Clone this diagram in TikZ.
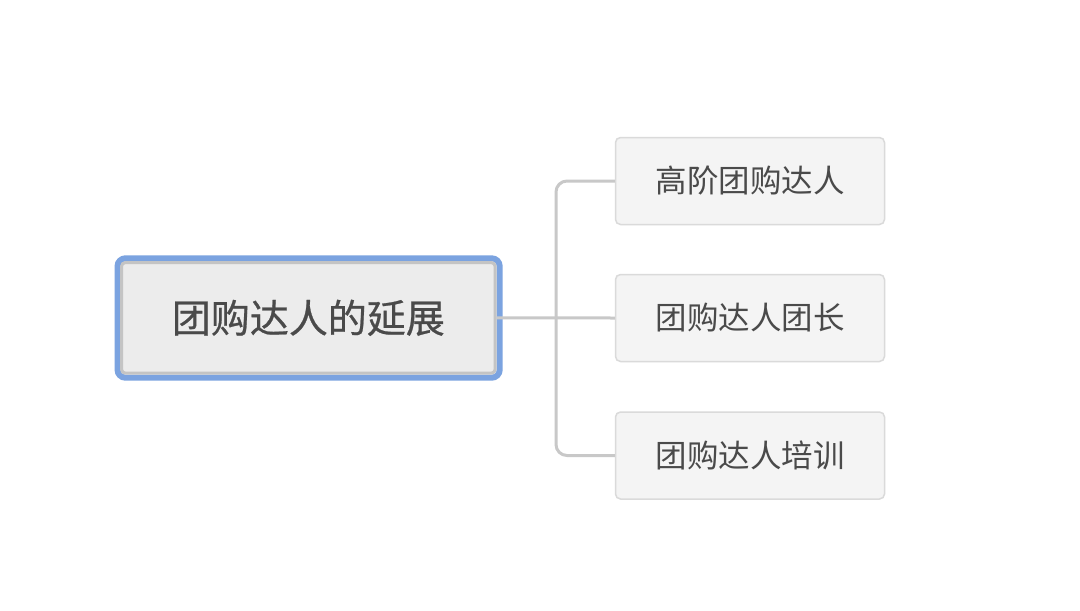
\documentclass[tikz,border=0pt]{standalone}
\usepackage{fontspec}
\newfontfamily\cjk{Noto Sans CJK SC}
\newfontfamily\cjkb[FakeBold=0.6]{Noto Sans CJK SC}
\begin{document}
\begin{tikzpicture}[x=1pt,y=-1pt,
  rootbox/.style={draw=rootgray,line width=3pt,fill=rootfill,rounded corners=4pt,
    minimum width=373.7pt,minimum height=110.7pt,inner sep=0pt,
    font=\cjkb\fontsize{39}{42}\selectfont,text=txt},
  childbox/.style={draw=childline,line width=1.5pt,fill=childfill,rounded corners=5pt,
    minimum width=269pt,minimum height=87pt,inner sep=0pt,
    font=\cjk\fontsize{31.5}{34}\selectfont,text=txt},
  conn/.style={draw=connc,line width=3pt,rounded corners=11pt}]
\definecolor{rootgray}{HTML}{C4C4C4}
\definecolor{rootfill}{HTML}{ECECEC}
\definecolor{blueframe}{HTML}{7BA3E0}
\definecolor{childline}{HTML}{DADADA}
\definecolor{childfill}{HTML}{F4F4F4}
\definecolor{txt}{HTML}{4A4A4A}
\definecolor{connc}{HTML}{C8C8C8}
\useasboundingbox (0,0) rectangle (1080,611);
\fill[white] (0,0) rectangle (1080,611);
% blue selection frame
\draw[blueframe,line width=6pt,rounded corners=8pt] (117.5,258.3) rectangle (499.7,377.7);
\node[rootbox] (root) at (308.35,317.85) {团购达人的延展};
\node[childbox] (c1) at (750,181) {高阶团购达人};
\node[childbox] (c2) at (750,318) {团购达人团长};
\node[childbox] (c3) at (750,455.5) {团购达人培训};
\draw[conn] (root.east) -- (c2.west);
\draw[conn] (c1.west) -- (556,181) -- (556,455.5) -- (c3.west);
\end{tikzpicture}
\end{document}
